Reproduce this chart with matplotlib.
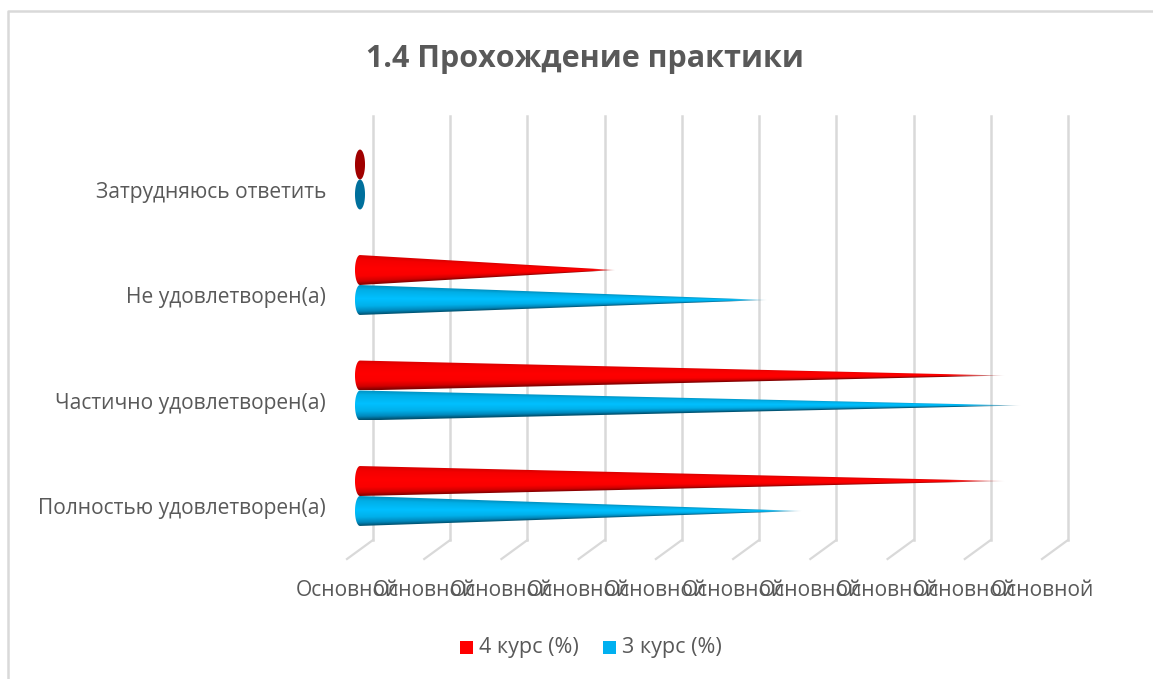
import matplotlib
matplotlib.use("Agg")
import matplotlib.pyplot as plt
from matplotlib.colors import LinearSegmentedColormap
from matplotlib.patches import Polygon, Rectangle
from matplotlib.transforms import ScaledTranslation
import numpy as np

plt.rcParams['font.family'] = ['Open Sans', 'DejaVu Sans']

categories = ["Полностью удовлетворен(а)", "Частично удовлетворен(а)",
              "Не удовлетворен(а)", "Затрудняюсь ответить"]
course4 = [8.36, 8.36, 3.31, 0]
course3 = [5.73, 8.56, 5.28, 0]
ticks = list(range(10))
tick_labels = ["Основной"] * 10

W, H = 1153, 679
dpi = 100
TEXT = "#595959"
GRID = "#d9d9d9"

red_cmap = LinearSegmentedColormap.from_list(
    "red3d", [(0, "#800000"), (0.12, "#d00000"), (0.3, "#fa0000"), (0.55, "#ff0000"),
              (0.85, "#f40000"), (1, "#d80000")])
blue_cmap = LinearSegmentedColormap.from_list(
    "blue3d", [(0, "#00506e"), (0.12, "#0088bc"), (0.3, "#00b0ea"), (0.55, "#00c0ff"),
               (0.85, "#00aee6"), (1, "#0090c0")])
red_flat = "#a00000"
blue_flat = "#00709c"


def draw_cone(ax, value, yc, half, cmap, flat):
    # flat discs for zero values, otherwise a cone shaded across its local width
    rx = 0.065
    if value == 0:
        t = np.linspace(0, 2 * np.pi, 60)
        ax.add_patch(Polygon(np.c_[rx * np.cos(t), yc + half * np.sin(t)],
                             closed=True, fc=flat, ec="none", zorder=4))
        return
    t = np.linspace(np.pi / 2, 3 * np.pi / 2, 30)
    pts = np.r_[np.c_[rx * np.cos(t), yc + half * np.sin(t)], [[value, yc]]]
    clip = Polygon(pts, closed=True, fc="none", ec="none", transform=ax.transData)
    ax.add_patch(clip)
    xs = np.linspace(-rx, value, 700)
    ys = np.linspace(yc - half, yc + half, 90)
    xx, yy = np.meshgrid(xs, ys)
    local = half * np.clip(1 - xx / value, 0.004, None)
    s = np.clip((yy - yc) / local, -1, 1)
    rgba = cmap((s + 1) / 2)
    # the tip fades out to the background
    rgba[..., 3] = np.clip((value - xx) / (0.09 * value), 0, 1) ** 0.6
    im = ax.imshow(rgba, aspect="auto", origin="lower", interpolation="bilinear",
                   extent=(-rx, value, yc - half, yc + half), zorder=4)
    im.set_clip_path(clip)


fig = plt.figure(figsize=(W / dpi, H / dpi), dpi=dpi, facecolor="white")

# cones start at px 360, one tick step is 77.2 px, wall is 13 px further right
x_front = 360
unit = (1068 - 373) / 9
row = 105.5
x_left = x_front - unit
x_right = 1110
ax = fig.add_axes([x_left / W, 1 - 540 / H, (x_right - x_left) / W, (540 - 116) / H])
xlim = (-1, (x_right - x_front) / unit)
ylim = (-(540 - 496) / row, (496 - 116) / row)
ax.axis("off")

wall = ax.transData + ScaledTranslation((373 - x_front) / dpi, 0, fig.dpi_scale_trans)
tick_text = wall + ScaledTranslation(-26 / dpi, -50 / dpi, fig.dpi_scale_trans)
floor = wall + ScaledTranslation(-26 / dpi, -19 / dpi, fig.dpi_scale_trans)
ax.set_xlim(*xlim)
ax.set_ylim(*ylim)
for t in ticks:
    ax.plot([t, t], ylim, color=GRID, lw=1.8, transform=wall, zorder=1, clip_on=False)
    p0 = wall.transform((t, ylim[0]))
    p1 = floor.transform((t, ylim[0]))
    fig.add_artist(plt.Line2D([p0[0] / W, p1[0] / W], [p0[1] / H, p1[1] / H],
                              color=GRID, lw=1.6, zorder=1))
    ax.text(t, ylim[0], tick_labels[t], transform=tick_text,
            ha="center", va="center", fontsize=15.1, color=TEXT, clip_on=False)

half = 0.142
offset = 0.142
for i, cat in enumerate(categories):
    draw_cone(ax, course4[i], i + offset, half, red_cmap, red_flat)
    draw_cone(ax, course3[i], i - offset, half, blue_cmap, blue_flat)
    ax.text(-0.44, i - 0.122, cat, ha="right", va="center", fontsize=15.1, color=TEXT, clip_on=False)
ax.set_xlim(*xlim)
ax.set_ylim(*ylim)

fig.text(585 / W, 1 - 59 / H, "1.4 Прохождение практики", ha="center", va="center",
         fontsize=22, fontweight="bold", color=TEXT)

# legend drawn by hand, Excel style swatches
for sx, tx, color, label in [(460, 479, "#ff0000", "4 курс (%)"), (603, 622, "#00b0f0", "3 курс (%)")]:
    fig.add_artist(Rectangle((sx / W, 1 - 654 / H), 13 / W, 13 / H, transform=fig.transFigure,
                             fc=color, ec="none"))
    fig.text(tx / W, 1 - 648 / H, label, ha="left", va="center", fontsize=15.5, color=TEXT)

# chart frame
fig.add_artist(plt.Line2D([7.5 / W, 7.5 / W, 1], [0, 1 - 11 / H, 1 - 11 / H], color="#d9d9d9", lw=1.8))

fig.savefig("out.png", dpi=dpi)
